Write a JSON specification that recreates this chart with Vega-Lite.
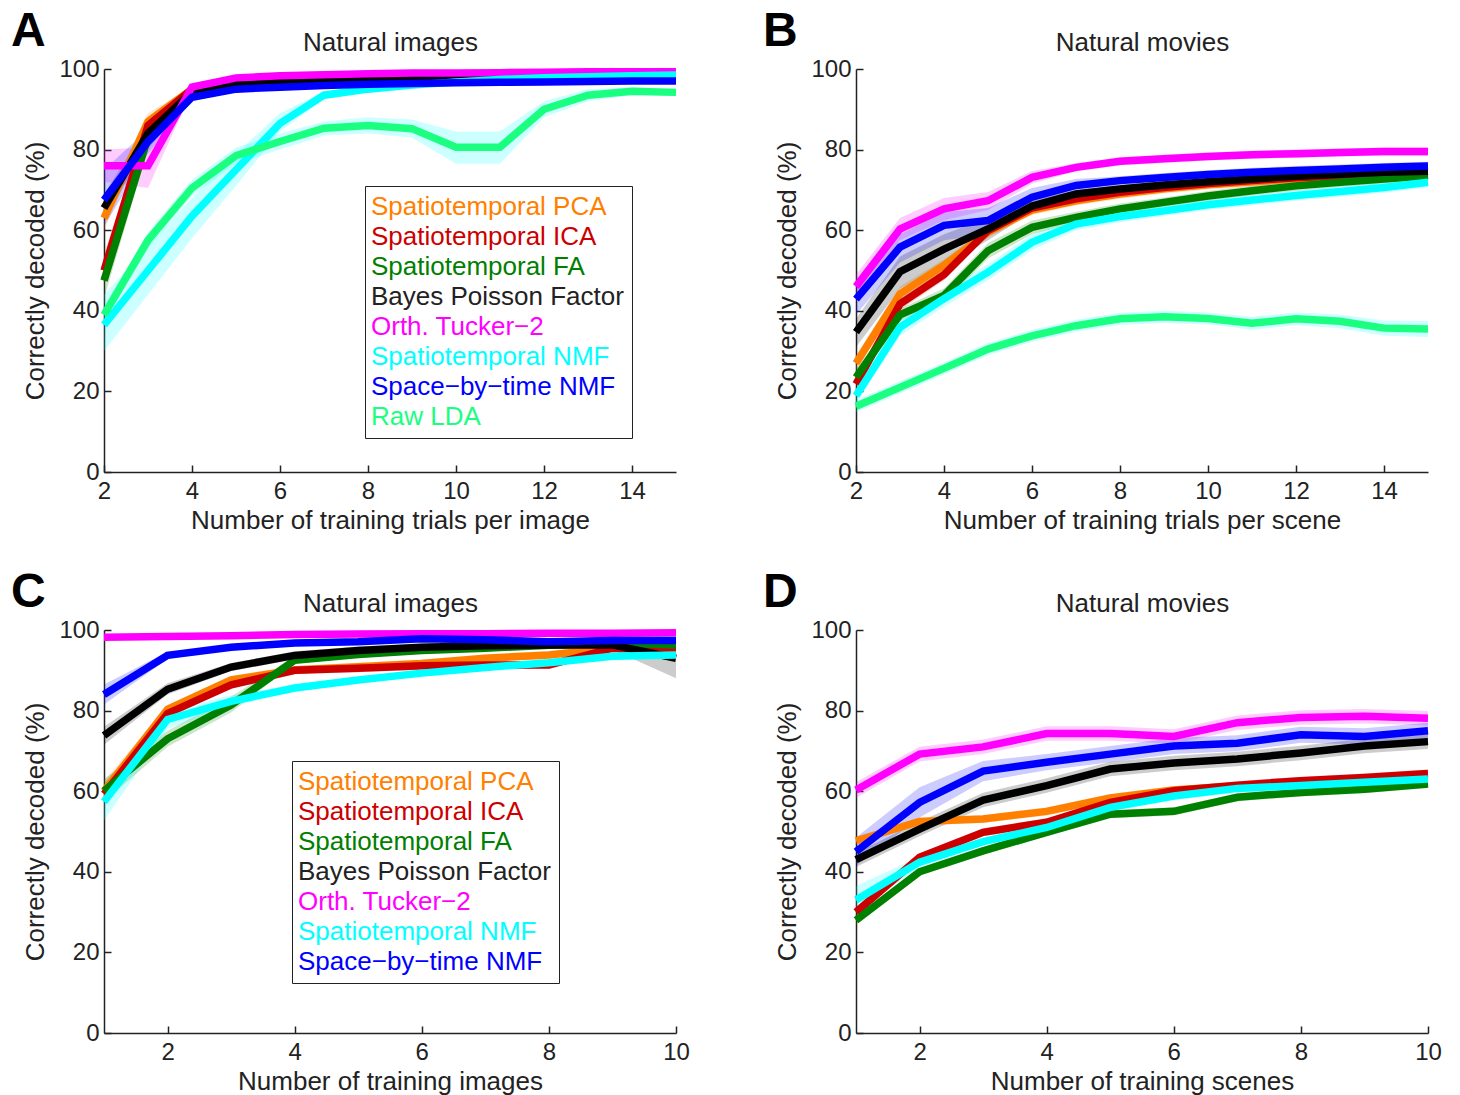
{
  "$schema": "https://vega.github.io/schema/vega-lite/v6.json",
  "padding": {"left": 10, "top": 8, "right": 10, "bottom": 8},
  "background": "white",
  "config": {
    "font": "Liberation Sans",
    "view": {"stroke": null},
    "axis": {"grid": false, "domainColor": "#222222", "domainWidth": 1.5, "tickColor": "#222222", "tickWidth": 1.5, "tickSize": -7, "labelFont": "Liberation Sans", "labelFontSize": 24, "labelColor": "#222222", "titleFont": "Liberation Sans", "titleFontSize": 26, "titleFontWeight": "normal", "titleColor": "#222222"},
    "axisX": {"labelPadding": 14, "titlePadding": 4, "labelFlush": false},
    "axisY": {"labelPadding": 12, "titlePadding": 10},
    "title": {"font": "Liberation Sans", "fontSize": 48, "fontWeight": "bold", "color": "black", "anchor": "start", "frame": "bounds", "dx": -12, "dy": 31, "offset": 0}
  },
  "datasets": {
    "A": [
      {"n":2,"method":"Spatiotemporal PCA","pct":63,"lo":60,"hi":66},{"n":3,"method":"Spatiotemporal PCA","pct":87,"lo":85,"hi":89},{"n":4,"method":"Spatiotemporal PCA","pct":95,"lo":94.4,"hi":95.6},{"n":5,"method":"Spatiotemporal PCA","pct":97,"lo":96.4,"hi":97.6},{"n":6,"method":"Spatiotemporal PCA","pct":97.6,"lo":97,"hi":98.2},{"n":7,"method":"Spatiotemporal PCA","pct":97.9,"lo":97.3,"hi":98.5},{"n":8,"method":"Spatiotemporal PCA","pct":98.1,"lo":97.5,"hi":98.7},{"n":9,"method":"Spatiotemporal PCA","pct":98.3,"lo":97.7,"hi":98.9},{"n":10,"method":"Spatiotemporal PCA","pct":98.4,"lo":97.8,"hi":99},{"n":11,"method":"Spatiotemporal PCA","pct":98.5,"lo":97.9,"hi":99.1},{"n":12,"method":"Spatiotemporal PCA","pct":98.6,"lo":98,"hi":99.2},{"n":13,"method":"Spatiotemporal PCA","pct":98.6,"lo":98,"hi":99.2},{"n":14,"method":"Spatiotemporal PCA","pct":98.7,"lo":98.1,"hi":99.3},{"n":15,"method":"Spatiotemporal PCA","pct":98.7,"lo":98.1,"hi":99.3},
      {"n":2,"method":"Spatiotemporal ICA","pct":50,"lo":46,"hi":54},{"n":3,"method":"Spatiotemporal ICA","pct":86,"lo":84,"hi":88},{"n":4,"method":"Spatiotemporal ICA","pct":95,"lo":94.4,"hi":95.6},{"n":5,"method":"Spatiotemporal ICA","pct":97,"lo":96.4,"hi":97.6},{"n":6,"method":"Spatiotemporal ICA","pct":97.6,"lo":97,"hi":98.2},{"n":7,"method":"Spatiotemporal ICA","pct":97.9,"lo":97.3,"hi":98.5},{"n":8,"method":"Spatiotemporal ICA","pct":98.1,"lo":97.5,"hi":98.7},{"n":9,"method":"Spatiotemporal ICA","pct":98.2,"lo":97.6,"hi":98.8},{"n":10,"method":"Spatiotemporal ICA","pct":98.3,"lo":97.7,"hi":98.9},{"n":11,"method":"Spatiotemporal ICA","pct":98.4,"lo":97.8,"hi":99},{"n":12,"method":"Spatiotemporal ICA","pct":98.5,"lo":97.9,"hi":99.1},{"n":13,"method":"Spatiotemporal ICA","pct":98.5,"lo":97.9,"hi":99.1},{"n":14,"method":"Spatiotemporal ICA","pct":98.6,"lo":98,"hi":99.2},{"n":15,"method":"Spatiotemporal ICA","pct":98.6,"lo":98,"hi":99.2},
      {"n":2,"method":"Spatiotemporal FA","pct":47.5,"lo":43,"hi":52},{"n":3,"method":"Spatiotemporal FA","pct":83,"lo":80,"hi":86},{"n":4,"method":"Spatiotemporal FA","pct":94.5,"lo":93.5,"hi":95.5},{"n":5,"method":"Spatiotemporal FA","pct":96.5,"lo":96,"hi":97},{"n":6,"method":"Spatiotemporal FA","pct":97.3,"lo":96.8,"hi":97.8},{"n":7,"method":"Spatiotemporal FA","pct":97.7,"lo":97.2,"hi":98.2},{"n":8,"method":"Spatiotemporal FA","pct":98,"lo":97.5,"hi":98.5},{"n":9,"method":"Spatiotemporal FA","pct":98.2,"lo":97.7,"hi":98.7},{"n":10,"method":"Spatiotemporal FA","pct":98.3,"lo":97.8,"hi":98.8},{"n":11,"method":"Spatiotemporal FA","pct":98.4,"lo":97.9,"hi":98.9},{"n":12,"method":"Spatiotemporal FA","pct":98.5,"lo":98,"hi":99},{"n":13,"method":"Spatiotemporal FA","pct":98.5,"lo":98,"hi":99},{"n":14,"method":"Spatiotemporal FA","pct":98.6,"lo":98.1,"hi":99.1},{"n":15,"method":"Spatiotemporal FA","pct":98.6,"lo":98.1,"hi":99.1},
      {"n":2,"method":"Bayes Poisson Factor","pct":65.5,"lo":62,"hi":69},{"n":3,"method":"Bayes Poisson Factor","pct":84,"lo":82,"hi":86},{"n":4,"method":"Bayes Poisson Factor","pct":94.3,"lo":93.7,"hi":94.9},{"n":5,"method":"Bayes Poisson Factor","pct":96.2,"lo":95.6,"hi":96.8},{"n":6,"method":"Bayes Poisson Factor","pct":97,"lo":96.4,"hi":97.6},{"n":7,"method":"Bayes Poisson Factor","pct":97.5,"lo":96.9,"hi":98.1},{"n":8,"method":"Bayes Poisson Factor","pct":97.8,"lo":97.2,"hi":98.4},{"n":9,"method":"Bayes Poisson Factor","pct":98,"lo":97.4,"hi":98.6},{"n":10,"method":"Bayes Poisson Factor","pct":98.1,"lo":97.5,"hi":98.7},{"n":11,"method":"Bayes Poisson Factor","pct":98.2,"lo":97.6,"hi":98.8},{"n":12,"method":"Bayes Poisson Factor","pct":98.3,"lo":97.7,"hi":98.9},{"n":13,"method":"Bayes Poisson Factor","pct":98.3,"lo":97.7,"hi":98.9},{"n":14,"method":"Bayes Poisson Factor","pct":98.4,"lo":97.8,"hi":99},{"n":15,"method":"Bayes Poisson Factor","pct":98.4,"lo":97.8,"hi":99},
      {"n":2,"method":"Orth. Tucker−2","pct":76,"lo":72,"hi":80},{"n":3,"method":"Orth. Tucker−2","pct":76,"lo":70.5,"hi":80.5},{"n":4,"method":"Orth. Tucker−2","pct":95.5,"lo":94.5,"hi":96.5},{"n":5,"method":"Orth. Tucker−2","pct":97.8,"lo":97.3,"hi":98.3},{"n":6,"method":"Orth. Tucker−2","pct":98.3,"lo":97.8,"hi":98.8},{"n":7,"method":"Orth. Tucker−2","pct":98.6,"lo":98.1,"hi":99.1},{"n":8,"method":"Orth. Tucker−2","pct":98.8,"lo":98.3,"hi":99.3},{"n":9,"method":"Orth. Tucker−2","pct":99,"lo":98.5,"hi":99.5},{"n":10,"method":"Orth. Tucker−2","pct":99,"lo":98.5,"hi":99.5},{"n":11,"method":"Orth. Tucker−2","pct":99.1,"lo":98.6,"hi":99.6},{"n":12,"method":"Orth. Tucker−2","pct":99.2,"lo":98.7,"hi":99.7},{"n":13,"method":"Orth. Tucker−2","pct":99.3,"lo":98.8,"hi":99.8},{"n":14,"method":"Orth. Tucker−2","pct":99.3,"lo":98.8,"hi":99.8},{"n":15,"method":"Orth. Tucker−2","pct":99.3,"lo":98.8,"hi":99.8},
      {"n":2,"method":"Spatiotemporal NMF","pct":36.5,"lo":30,"hi":44},{"n":3,"method":"Spatiotemporal NMF","pct":50,"lo":44,"hi":56},{"n":4,"method":"Spatiotemporal NMF","pct":63.5,"lo":58,"hi":68},{"n":5,"method":"Spatiotemporal NMF","pct":75,"lo":71,"hi":79},{"n":6,"method":"Spatiotemporal NMF","pct":86.5,"lo":84.5,"hi":89},{"n":7,"method":"Spatiotemporal NMF","pct":93.5,"lo":92.5,"hi":94.5},{"n":8,"method":"Spatiotemporal NMF","pct":95,"lo":94.3,"hi":95.7},{"n":9,"method":"Spatiotemporal NMF","pct":96,"lo":95.3,"hi":96.7},{"n":10,"method":"Spatiotemporal NMF","pct":96.8,"lo":96.1,"hi":97.5},{"n":11,"method":"Spatiotemporal NMF","pct":97.4,"lo":96.7,"hi":98.1},{"n":12,"method":"Spatiotemporal NMF","pct":97.8,"lo":97.1,"hi":98.5},{"n":13,"method":"Spatiotemporal NMF","pct":98.1,"lo":97.4,"hi":98.8},{"n":14,"method":"Spatiotemporal NMF","pct":98.3,"lo":97.6,"hi":99},{"n":15,"method":"Spatiotemporal NMF","pct":98.5,"lo":97.8,"hi":99.2},
      {"n":2,"method":"Space−by−time NMF","pct":67.5,"lo":61,"hi":75},{"n":3,"method":"Space−by−time NMF","pct":82,"lo":79,"hi":85},{"n":4,"method":"Space−by−time NMF","pct":93,"lo":92,"hi":94},{"n":5,"method":"Space−by−time NMF","pct":95,"lo":94.4,"hi":95.6},{"n":6,"method":"Space−by−time NMF","pct":95.5,"lo":94.9,"hi":96.1},{"n":7,"method":"Space−by−time NMF","pct":95.9,"lo":95.3,"hi":96.5},{"n":8,"method":"Space−by−time NMF","pct":96.2,"lo":95.6,"hi":96.8},{"n":9,"method":"Space−by−time NMF","pct":96.4,"lo":95.8,"hi":97},{"n":10,"method":"Space−by−time NMF","pct":96.6,"lo":96,"hi":97.2},{"n":11,"method":"Space−by−time NMF","pct":96.7,"lo":96.1,"hi":97.3},{"n":12,"method":"Space−by−time NMF","pct":96.8,"lo":96.2,"hi":97.4},{"n":13,"method":"Space−by−time NMF","pct":96.9,"lo":96.3,"hi":97.5},{"n":14,"method":"Space−by−time NMF","pct":97,"lo":96.4,"hi":97.6},{"n":15,"method":"Space−by−time NMF","pct":97,"lo":96.4,"hi":97.6},
      {"n":2,"method":"Raw LDA","pct":39,"lo":37,"hi":41},{"n":3,"method":"Raw LDA","pct":57.5,"lo":55.5,"hi":59.5},{"n":4,"method":"Raw LDA","pct":70.5,"lo":68.5,"hi":72.5},{"n":5,"method":"Raw LDA","pct":78.5,"lo":76.5,"hi":80.5},{"n":6,"method":"Raw LDA","pct":82,"lo":80,"hi":84},{"n":7,"method":"Raw LDA","pct":85.3,"lo":83.5,"hi":87},{"n":8,"method":"Raw LDA","pct":86,"lo":84,"hi":88},{"n":9,"method":"Raw LDA","pct":85.2,"lo":83,"hi":87.5},{"n":10,"method":"Raw LDA","pct":80.6,"lo":76.5,"hi":84.5},{"n":11,"method":"Raw LDA","pct":80.6,"lo":76.5,"hi":84.5},{"n":12,"method":"Raw LDA","pct":90,"lo":88,"hi":92},{"n":13,"method":"Raw LDA","pct":93.5,"lo":92,"hi":95},{"n":14,"method":"Raw LDA","pct":94.5,"lo":93.5,"hi":95.5},{"n":15,"method":"Raw LDA","pct":94.2,"lo":93.3,"hi":95}
    ],
    "B": [
      {"n":2,"method":"Spatiotemporal PCA","pct":27,"lo":25,"hi":29},{"n":3,"method":"Spatiotemporal PCA","pct":44.2,"lo":42.5,"hi":46},{"n":4,"method":"Spatiotemporal PCA","pct":51.3,"lo":49.8,"hi":52.8},{"n":5,"method":"Spatiotemporal PCA","pct":59.5,"lo":58.2,"hi":60.8},{"n":6,"method":"Spatiotemporal PCA","pct":65,"lo":63.8,"hi":66.2},{"n":7,"method":"Spatiotemporal PCA","pct":67.3,"lo":66.1,"hi":68.5},{"n":8,"method":"Spatiotemporal PCA","pct":69,"lo":67.8,"hi":70.2},{"n":9,"method":"Spatiotemporal PCA","pct":70.3,"lo":69.1,"hi":71.5},{"n":10,"method":"Spatiotemporal PCA","pct":71.3,"lo":70.1,"hi":72.5},{"n":11,"method":"Spatiotemporal PCA","pct":72,"lo":70.8,"hi":73.2},{"n":12,"method":"Spatiotemporal PCA","pct":72.8,"lo":71.6,"hi":74},{"n":13,"method":"Spatiotemporal PCA","pct":73.3,"lo":72.1,"hi":74.5},{"n":14,"method":"Spatiotemporal PCA","pct":73.7,"lo":72.5,"hi":74.9},{"n":15,"method":"Spatiotemporal PCA","pct":74.1,"lo":72.9,"hi":75.3},
      {"n":2,"method":"Spatiotemporal ICA","pct":21.8,"lo":20,"hi":23.6},{"n":3,"method":"Spatiotemporal ICA","pct":41.7,"lo":40.2,"hi":43.2},{"n":4,"method":"Spatiotemporal ICA","pct":49,"lo":47.6,"hi":50.4},{"n":5,"method":"Spatiotemporal ICA","pct":59.9,"lo":58.7,"hi":61.1},{"n":6,"method":"Spatiotemporal ICA","pct":65.5,"lo":64.3,"hi":66.7},{"n":7,"method":"Spatiotemporal ICA","pct":67.8,"lo":66.6,"hi":69},{"n":8,"method":"Spatiotemporal ICA","pct":69.4,"lo":68.2,"hi":70.6},{"n":9,"method":"Spatiotemporal ICA","pct":70.6,"lo":69.4,"hi":71.8},{"n":10,"method":"Spatiotemporal ICA","pct":71.6,"lo":70.4,"hi":72.8},{"n":11,"method":"Spatiotemporal ICA","pct":72.3,"lo":71.1,"hi":73.5},{"n":12,"method":"Spatiotemporal ICA","pct":73,"lo":71.8,"hi":74.2},{"n":13,"method":"Spatiotemporal ICA","pct":73.5,"lo":72.3,"hi":74.7},{"n":14,"method":"Spatiotemporal ICA","pct":73.9,"lo":72.7,"hi":75.1},{"n":15,"method":"Spatiotemporal ICA","pct":74.3,"lo":73.1,"hi":75.5},
      {"n":2,"method":"Spatiotemporal FA","pct":23.5,"lo":21.5,"hi":25.5},{"n":3,"method":"Spatiotemporal FA","pct":39,"lo":37.5,"hi":40.5},{"n":4,"method":"Spatiotemporal FA","pct":43.8,"lo":42,"hi":45.6},{"n":5,"method":"Spatiotemporal FA","pct":54.9,"lo":53,"hi":56.8},{"n":6,"method":"Spatiotemporal FA","pct":60.7,"lo":59,"hi":62.4},{"n":7,"method":"Spatiotemporal FA","pct":63.2,"lo":61.8,"hi":64.6},{"n":8,"method":"Spatiotemporal FA","pct":65.3,"lo":64,"hi":66.6},{"n":9,"method":"Spatiotemporal FA","pct":66.9,"lo":65.7,"hi":68.1},{"n":10,"method":"Spatiotemporal FA","pct":68.5,"lo":67.3,"hi":69.7},{"n":11,"method":"Spatiotemporal FA","pct":69.8,"lo":68.6,"hi":71},{"n":12,"method":"Spatiotemporal FA","pct":71,"lo":69.8,"hi":72.2},{"n":13,"method":"Spatiotemporal FA","pct":71.9,"lo":70.7,"hi":73.1},{"n":14,"method":"Spatiotemporal FA","pct":72.7,"lo":71.5,"hi":73.9},{"n":15,"method":"Spatiotemporal FA","pct":73.5,"lo":72.3,"hi":74.7},
      {"n":2,"method":"Bayes Poisson Factor","pct":34.7,"lo":31,"hi":38},{"n":3,"method":"Bayes Poisson Factor","pct":49.7,"lo":45.5,"hi":53.5},{"n":4,"method":"Bayes Poisson Factor","pct":55.3,"lo":51,"hi":59},{"n":5,"method":"Bayes Poisson Factor","pct":60.3,"lo":57.5,"hi":63},{"n":6,"method":"Bayes Poisson Factor","pct":66,"lo":64.5,"hi":67.5},{"n":7,"method":"Bayes Poisson Factor","pct":69,"lo":68,"hi":70},{"n":8,"method":"Bayes Poisson Factor","pct":70.2,"lo":69.2,"hi":71.2},{"n":9,"method":"Bayes Poisson Factor","pct":71.2,"lo":70.2,"hi":72.2},{"n":10,"method":"Bayes Poisson Factor","pct":72,"lo":71,"hi":73},{"n":11,"method":"Bayes Poisson Factor","pct":72.7,"lo":71.7,"hi":73.7},{"n":12,"method":"Bayes Poisson Factor","pct":73.4,"lo":72.4,"hi":74.4},{"n":13,"method":"Bayes Poisson Factor","pct":73.9,"lo":72.9,"hi":74.9},{"n":14,"method":"Bayes Poisson Factor","pct":74.4,"lo":73.4,"hi":75.4},{"n":15,"method":"Bayes Poisson Factor","pct":74.6,"lo":73.6,"hi":75.6},
      {"n":2,"method":"Orth. Tucker−2","pct":46,"lo":43,"hi":49},{"n":3,"method":"Orth. Tucker−2","pct":60.3,"lo":57.5,"hi":63},{"n":4,"method":"Orth. Tucker−2","pct":65.3,"lo":62.5,"hi":68},{"n":5,"method":"Orth. Tucker−2","pct":67.3,"lo":65,"hi":69.5},{"n":6,"method":"Orth. Tucker−2","pct":73.1,"lo":71.5,"hi":74.7},{"n":7,"method":"Orth. Tucker−2","pct":75.6,"lo":74.6,"hi":76.6},{"n":8,"method":"Orth. Tucker−2","pct":77.1,"lo":76.1,"hi":78.1},{"n":9,"method":"Orth. Tucker−2","pct":77.7,"lo":76.7,"hi":78.7},{"n":10,"method":"Orth. Tucker−2","pct":78.3,"lo":77.3,"hi":79.3},{"n":11,"method":"Orth. Tucker−2","pct":78.7,"lo":77.7,"hi":79.7},{"n":12,"method":"Orth. Tucker−2","pct":79,"lo":78,"hi":80},{"n":13,"method":"Orth. Tucker−2","pct":79.3,"lo":78.3,"hi":80.3},{"n":14,"method":"Orth. Tucker−2","pct":79.5,"lo":78.5,"hi":80.5},{"n":15,"method":"Orth. Tucker−2","pct":79.5,"lo":78.5,"hi":80.5},
      {"n":2,"method":"Spatiotemporal NMF","pct":18.9,"lo":17,"hi":20.8},{"n":3,"method":"Spatiotemporal NMF","pct":35.9,"lo":33.8,"hi":38},{"n":4,"method":"Spatiotemporal NMF","pct":43,"lo":41,"hi":45},{"n":5,"method":"Spatiotemporal NMF","pct":49.6,"lo":47.6,"hi":51.6},{"n":6,"method":"Spatiotemporal NMF","pct":57,"lo":55,"hi":59},{"n":7,"method":"Spatiotemporal NMF","pct":61.5,"lo":60,"hi":63},{"n":8,"method":"Spatiotemporal NMF","pct":63.4,"lo":62,"hi":64.8},{"n":9,"method":"Spatiotemporal NMF","pct":64.8,"lo":63.5,"hi":66.1},{"n":10,"method":"Spatiotemporal NMF","pct":66.3,"lo":65,"hi":67.6},{"n":11,"method":"Spatiotemporal NMF","pct":67.5,"lo":66.2,"hi":68.8},{"n":12,"method":"Spatiotemporal NMF","pct":68.6,"lo":67.3,"hi":69.9},{"n":13,"method":"Spatiotemporal NMF","pct":69.6,"lo":68.3,"hi":70.9},{"n":14,"method":"Spatiotemporal NMF","pct":70.6,"lo":69.3,"hi":71.9},{"n":15,"method":"Spatiotemporal NMF","pct":71.9,"lo":70.6,"hi":73.2},
      {"n":2,"method":"Space−by−time NMF","pct":42.9,"lo":39,"hi":46},{"n":3,"method":"Space−by−time NMF","pct":55.8,"lo":52,"hi":59},{"n":4,"method":"Space−by−time NMF","pct":61.2,"lo":57.5,"hi":64.5},{"n":5,"method":"Space−by−time NMF","pct":62.4,"lo":59,"hi":65.5},{"n":6,"method":"Space−by−time NMF","pct":68.2,"lo":65.5,"hi":70.5},{"n":7,"method":"Space−by−time NMF","pct":71.1,"lo":69.5,"hi":72.7},{"n":8,"method":"Space−by−time NMF","pct":72.3,"lo":71.2,"hi":73.4},{"n":9,"method":"Space−by−time NMF","pct":73.1,"lo":72,"hi":74.2},{"n":10,"method":"Space−by−time NMF","pct":73.8,"lo":72.7,"hi":74.9},{"n":11,"method":"Space−by−time NMF","pct":74.4,"lo":73.3,"hi":75.5},{"n":12,"method":"Space−by−time NMF","pct":74.8,"lo":73.7,"hi":75.9},{"n":13,"method":"Space−by−time NMF","pct":75.2,"lo":74.1,"hi":76.3},{"n":14,"method":"Space−by−time NMF","pct":75.6,"lo":74.5,"hi":76.7},{"n":15,"method":"Space−by−time NMF","pct":75.9,"lo":74.8,"hi":77},
      {"n":2,"method":"Raw LDA","pct":16.3,"lo":14.8,"hi":17.8},{"n":3,"method":"Raw LDA","pct":21,"lo":19.5,"hi":22.5},{"n":4,"method":"Raw LDA","pct":25.7,"lo":24.2,"hi":27.2},{"n":5,"method":"Raw LDA","pct":30.5,"lo":29,"hi":32},{"n":6,"method":"Raw LDA","pct":33.8,"lo":32.3,"hi":35.3},{"n":7,"method":"Raw LDA","pct":36.3,"lo":34.8,"hi":37.8},{"n":8,"method":"Raw LDA","pct":38,"lo":36.5,"hi":39.5},{"n":9,"method":"Raw LDA","pct":38.5,"lo":37,"hi":40},{"n":10,"method":"Raw LDA","pct":38.1,"lo":36.6,"hi":39.6},{"n":11,"method":"Raw LDA","pct":36.9,"lo":35.3,"hi":38.5},{"n":12,"method":"Raw LDA","pct":38,"lo":36.4,"hi":39.6},{"n":13,"method":"Raw LDA","pct":37.4,"lo":35.7,"hi":39.1},{"n":14,"method":"Raw LDA","pct":35.7,"lo":33.8,"hi":37.6},{"n":15,"method":"Raw LDA","pct":35.5,"lo":33.5,"hi":37.5}
    ],
    "C": [
      {"n":1,"method":"Spatiotemporal PCA","pct":60,"lo":57.5,"hi":62.5},{"n":2,"method":"Spatiotemporal PCA","pct":80.3,"lo":79.2,"hi":81.4},{"n":3,"method":"Spatiotemporal PCA","pct":87.6,"lo":86.6,"hi":88.6},{"n":4,"method":"Spatiotemporal PCA","pct":90.1,"lo":89.1,"hi":91.1},{"n":5,"method":"Spatiotemporal PCA","pct":90.9,"lo":89.9,"hi":91.9},{"n":6,"method":"Spatiotemporal PCA","pct":91.7,"lo":90.7,"hi":92.7},{"n":7,"method":"Spatiotemporal PCA","pct":93,"lo":92,"hi":94},{"n":8,"method":"Spatiotemporal PCA","pct":93.8,"lo":92.8,"hi":94.8},{"n":9,"method":"Spatiotemporal PCA","pct":95.5,"lo":94.5,"hi":96.5},{"n":10,"method":"Spatiotemporal PCA","pct":96,"lo":95,"hi":97},
      {"n":1,"method":"Spatiotemporal ICA","pct":59.3,"lo":57,"hi":62},{"n":2,"method":"Spatiotemporal ICA","pct":79.3,"lo":78.2,"hi":80.4},{"n":3,"method":"Spatiotemporal ICA","pct":86.4,"lo":85.4,"hi":87.4},{"n":4,"method":"Spatiotemporal ICA","pct":90,"lo":89,"hi":91},{"n":5,"method":"Spatiotemporal ICA","pct":90.5,"lo":89.5,"hi":91.5},{"n":6,"method":"Spatiotemporal ICA","pct":91.1,"lo":90.1,"hi":92.1},{"n":7,"method":"Spatiotemporal ICA","pct":91.3,"lo":90.3,"hi":92.3},{"n":8,"method":"Spatiotemporal ICA","pct":91.3,"lo":90.3,"hi":92.3},{"n":9,"method":"Spatiotemporal ICA","pct":95.5,"lo":94.5,"hi":96.5},{"n":10,"method":"Spatiotemporal ICA","pct":95.2,"lo":94.2,"hi":96.2},
      {"n":1,"method":"Spatiotemporal FA","pct":60.1,"lo":57.5,"hi":63},{"n":2,"method":"Spatiotemporal FA","pct":73,"lo":71,"hi":75},{"n":3,"method":"Spatiotemporal FA","pct":81.4,"lo":79.5,"hi":83.5},{"n":4,"method":"Spatiotemporal FA","pct":92.5,"lo":91.7,"hi":93.3},{"n":5,"method":"Spatiotemporal FA","pct":93.9,"lo":93.1,"hi":94.7},{"n":6,"method":"Spatiotemporal FA","pct":94.9,"lo":94.1,"hi":95.7},{"n":7,"method":"Spatiotemporal FA","pct":95.5,"lo":94.7,"hi":96.3},{"n":8,"method":"Spatiotemporal FA","pct":96.2,"lo":95.4,"hi":97},{"n":9,"method":"Spatiotemporal FA","pct":96.8,"lo":96,"hi":97.6},{"n":10,"method":"Spatiotemporal FA","pct":96.3,"lo":95.5,"hi":97.1},
      {"n":1,"method":"Bayes Poisson Factor","pct":73.8,"lo":71.5,"hi":76},{"n":2,"method":"Bayes Poisson Factor","pct":85.3,"lo":84,"hi":86.8},{"n":3,"method":"Bayes Poisson Factor","pct":90.8,"lo":89.8,"hi":91.8},{"n":4,"method":"Bayes Poisson Factor","pct":93.7,"lo":92.7,"hi":94.7},{"n":5,"method":"Bayes Poisson Factor","pct":94.9,"lo":93.9,"hi":95.9},{"n":6,"method":"Bayes Poisson Factor","pct":95.7,"lo":94.7,"hi":96.7},{"n":7,"method":"Bayes Poisson Factor","pct":96.1,"lo":95.1,"hi":97.1},{"n":8,"method":"Bayes Poisson Factor","pct":96.3,"lo":95.3,"hi":97.3},{"n":9,"method":"Bayes Poisson Factor","pct":96.3,"lo":95.1,"hi":97.5},{"n":10,"method":"Bayes Poisson Factor","pct":93,"lo":88,"hi":96},
      {"n":1,"method":"Orth. Tucker−2","pct":98.2,"lo":97.7,"hi":98.7},{"n":2,"method":"Orth. Tucker−2","pct":98.4,"lo":97.9,"hi":98.9},{"n":3,"method":"Orth. Tucker−2","pct":98.6,"lo":98.1,"hi":99.1},{"n":4,"method":"Orth. Tucker−2","pct":98.9,"lo":98.4,"hi":99.4},{"n":5,"method":"Orth. Tucker−2","pct":99,"lo":98.5,"hi":99.5},{"n":6,"method":"Orth. Tucker−2","pct":99.1,"lo":98.6,"hi":99.6},{"n":7,"method":"Orth. Tucker−2","pct":99.1,"lo":98.6,"hi":99.6},{"n":8,"method":"Orth. Tucker−2","pct":99.2,"lo":98.7,"hi":99.7},{"n":9,"method":"Orth. Tucker−2","pct":99.2,"lo":98.7,"hi":99.7},{"n":10,"method":"Orth. Tucker−2","pct":99.3,"lo":98.8,"hi":99.8},
      {"n":1,"method":"Spatiotemporal NMF","pct":57.4,"lo":52.7,"hi":61.4},{"n":2,"method":"Spatiotemporal NMF","pct":77.8,"lo":75.5,"hi":80},{"n":3,"method":"Spatiotemporal NMF","pct":82.3,"lo":81,"hi":83.8},{"n":4,"method":"Spatiotemporal NMF","pct":85.6,"lo":84.8,"hi":86.4},{"n":5,"method":"Spatiotemporal NMF","pct":87.6,"lo":86.8,"hi":88.4},{"n":6,"method":"Spatiotemporal NMF","pct":89.3,"lo":88.5,"hi":90.1},{"n":7,"method":"Spatiotemporal NMF","pct":90.7,"lo":89.9,"hi":91.5},{"n":8,"method":"Spatiotemporal NMF","pct":91.9,"lo":91.1,"hi":92.7},{"n":9,"method":"Spatiotemporal NMF","pct":93.5,"lo":92.7,"hi":94.3},{"n":10,"method":"Spatiotemporal NMF","pct":93.8,"lo":93,"hi":94.6},
      {"n":1,"method":"Space−by−time NMF","pct":84,"lo":81.5,"hi":86.5},{"n":2,"method":"Space−by−time NMF","pct":93.7,"lo":92.8,"hi":94.6},{"n":3,"method":"Space−by−time NMF","pct":95.7,"lo":95.1,"hi":96.3},{"n":4,"method":"Space−by−time NMF","pct":96.8,"lo":96.2,"hi":97.4},{"n":5,"method":"Space−by−time NMF","pct":97.1,"lo":96.5,"hi":97.7},{"n":6,"method":"Space−by−time NMF","pct":97.8,"lo":97.2,"hi":98.4},{"n":7,"method":"Space−by−time NMF","pct":97.6,"lo":97,"hi":98.2},{"n":8,"method":"Space−by−time NMF","pct":97.1,"lo":96.5,"hi":97.7},{"n":9,"method":"Space−by−time NMF","pct":97.4,"lo":96.8,"hi":98},{"n":10,"method":"Space−by−time NMF","pct":97.4,"lo":96.8,"hi":98}
    ],
    "D": [
      {"n":1,"method":"Spatiotemporal PCA","pct":47.7,"lo":46.7,"hi":48.7},{"n":2,"method":"Spatiotemporal PCA","pct":52.5,"lo":51.5,"hi":53.5},{"n":3,"method":"Spatiotemporal PCA","pct":53.1,"lo":52.1,"hi":54.1},{"n":4,"method":"Spatiotemporal PCA","pct":55,"lo":54,"hi":56},{"n":5,"method":"Spatiotemporal PCA","pct":58.3,"lo":57.3,"hi":59.3},{"n":6,"method":"Spatiotemporal PCA","pct":60.3,"lo":59.3,"hi":61.3},{"n":7,"method":"Spatiotemporal PCA","pct":61.3,"lo":60.3,"hi":62.3},{"n":8,"method":"Spatiotemporal PCA","pct":62.2,"lo":61.2,"hi":63.2},{"n":9,"method":"Spatiotemporal PCA","pct":63,"lo":62,"hi":64},{"n":10,"method":"Spatiotemporal PCA","pct":63.8,"lo":62.8,"hi":64.8},
      {"n":1,"method":"Spatiotemporal ICA","pct":30,"lo":29,"hi":31},{"n":2,"method":"Spatiotemporal ICA","pct":43.6,"lo":42.6,"hi":44.6},{"n":3,"method":"Spatiotemporal ICA","pct":49.8,"lo":48.8,"hi":50.8},{"n":4,"method":"Spatiotemporal ICA","pct":52.3,"lo":51.3,"hi":53.3},{"n":5,"method":"Spatiotemporal ICA","pct":57.2,"lo":56.2,"hi":58.2},{"n":6,"method":"Spatiotemporal ICA","pct":60.1,"lo":59.1,"hi":61.1},{"n":7,"method":"Spatiotemporal ICA","pct":61.5,"lo":60.5,"hi":62.5},{"n":8,"method":"Spatiotemporal ICA","pct":62.6,"lo":61.6,"hi":63.6},{"n":9,"method":"Spatiotemporal ICA","pct":63.4,"lo":62.4,"hi":64.4},{"n":10,"method":"Spatiotemporal ICA","pct":64.4,"lo":63.4,"hi":65.4},
      {"n":1,"method":"Spatiotemporal FA","pct":28,"lo":27,"hi":29},{"n":2,"method":"Spatiotemporal FA","pct":40,"lo":39,"hi":41},{"n":3,"method":"Spatiotemporal FA","pct":45.2,"lo":44.2,"hi":46.2},{"n":4,"method":"Spatiotemporal FA","pct":49.8,"lo":48.8,"hi":50.8},{"n":5,"method":"Spatiotemporal FA","pct":54.3,"lo":53.3,"hi":55.3},{"n":6,"method":"Spatiotemporal FA","pct":55,"lo":54,"hi":56},{"n":7,"method":"Spatiotemporal FA","pct":58.5,"lo":57.5,"hi":59.5},{"n":8,"method":"Spatiotemporal FA","pct":59.7,"lo":58.7,"hi":60.7},{"n":9,"method":"Spatiotemporal FA","pct":60.5,"lo":59.5,"hi":61.5},{"n":10,"method":"Spatiotemporal FA","pct":61.8,"lo":60.8,"hi":62.8},
      {"n":1,"method":"Bayes Poisson Factor","pct":43,"lo":41.2,"hi":44.8},{"n":2,"method":"Bayes Poisson Factor","pct":50.6,"lo":48.8,"hi":52.4},{"n":3,"method":"Bayes Poisson Factor","pct":57.8,"lo":56,"hi":59.6},{"n":4,"method":"Bayes Poisson Factor","pct":61.4,"lo":59.6,"hi":63.2},{"n":5,"method":"Bayes Poisson Factor","pct":65.5,"lo":63.7,"hi":67.3},{"n":6,"method":"Bayes Poisson Factor","pct":67,"lo":65.2,"hi":68.8},{"n":7,"method":"Bayes Poisson Factor","pct":68,"lo":66.2,"hi":69.8},{"n":8,"method":"Bayes Poisson Factor","pct":69.5,"lo":67.7,"hi":71.3},{"n":9,"method":"Bayes Poisson Factor","pct":71.2,"lo":69.4,"hi":73},{"n":10,"method":"Bayes Poisson Factor","pct":72.3,"lo":70.5,"hi":74.1},
      {"n":1,"method":"Orth. Tucker−2","pct":60.3,"lo":58.3,"hi":62.3},{"n":2,"method":"Orth. Tucker−2","pct":69.2,"lo":67.4,"hi":71},{"n":3,"method":"Orth. Tucker−2","pct":71,"lo":69.2,"hi":72.8},{"n":4,"method":"Orth. Tucker−2","pct":74.3,"lo":72.5,"hi":76.1},{"n":5,"method":"Orth. Tucker−2","pct":74.3,"lo":72.5,"hi":76.1},{"n":6,"method":"Orth. Tucker−2","pct":73.6,"lo":71.8,"hi":75.4},{"n":7,"method":"Orth. Tucker−2","pct":77,"lo":75.2,"hi":78.8},{"n":8,"method":"Orth. Tucker−2","pct":78.3,"lo":76.5,"hi":80.1},{"n":9,"method":"Orth. Tucker−2","pct":78.6,"lo":76.8,"hi":80.4},{"n":10,"method":"Orth. Tucker−2","pct":78.1,"lo":76.3,"hi":79.9},
      {"n":1,"method":"Spatiotemporal NMF","pct":33,"lo":30,"hi":36.5},{"n":2,"method":"Spatiotemporal NMF","pct":42.4,"lo":41,"hi":43.8},{"n":3,"method":"Spatiotemporal NMF","pct":47.5,"lo":46.5,"hi":48.5},{"n":4,"method":"Spatiotemporal NMF","pct":51,"lo":50,"hi":52},{"n":5,"method":"Spatiotemporal NMF","pct":56,"lo":55,"hi":57},{"n":6,"method":"Spatiotemporal NMF","pct":58.8,"lo":57.8,"hi":59.8},{"n":7,"method":"Spatiotemporal NMF","pct":60.7,"lo":59.7,"hi":61.7},{"n":8,"method":"Spatiotemporal NMF","pct":61.4,"lo":60.4,"hi":62.4},{"n":9,"method":"Spatiotemporal NMF","pct":62.2,"lo":61.2,"hi":63.2},{"n":10,"method":"Spatiotemporal NMF","pct":63,"lo":62,"hi":64},
      {"n":1,"method":"Space−by−time NMF","pct":45,"lo":41.5,"hi":48.5},{"n":2,"method":"Space−by−time NMF","pct":57.2,"lo":53.5,"hi":61},{"n":3,"method":"Space−by−time NMF","pct":65,"lo":62.5,"hi":67.5},{"n":4,"method":"Space−by−time NMF","pct":67.2,"lo":65.2,"hi":69.2},{"n":5,"method":"Space−by−time NMF","pct":69.2,"lo":67.2,"hi":71.2},{"n":6,"method":"Space−by−time NMF","pct":71.2,"lo":69.2,"hi":73.2},{"n":7,"method":"Space−by−time NMF","pct":71.9,"lo":69.9,"hi":73.9},{"n":8,"method":"Space−by−time NMF","pct":74,"lo":72,"hi":76},{"n":9,"method":"Space−by−time NMF","pct":73.6,"lo":71.6,"hi":75.6},{"n":10,"method":"Space−by−time NMF","pct":75,"lo":73,"hi":77}
    ]
  },
  "columns": 2,
  "bounds": "flush",
  "spacing": {"row": 158, "column": 180},
  "resolve": {"scale": {"color": "independent", "fill": "independent", "x": "independent", "y": "independent"}, "legend": {"color": "independent", "fill": "independent"}},
  "concat": [
    {
      "title": {"text": "A"},
      "width": 572, "height": 403,
      "data": {"name": "A"},
      "resolve": {"axis": {"x": "independent"}},
      "layer": [
        {"mark": {"type": "area", "fillOpacity": 0.2}, "encoding": {"x": {"field": "n", "type": "quantitative", "scale": {"domain": [2, 15], "nice": false, "zero": false}, "axis": {"values": [2, 4, 6, 8, 10, 12, 14], "title": "Number of training trials per image"}}, "y": {"field": "lo", "type": "quantitative", "scale": {"domain": [0, 100], "nice": false}, "axis": {"values": [0, 20, 40, 60, 80, 100], "title": "Correctly decoded (%)"}}, "y2": {"field": "hi"}, "fill": {"field": "method", "type": "nominal", "scale": {"domain": ["Spatiotemporal PCA", "Spatiotemporal ICA", "Spatiotemporal FA", "Bayes Poisson Factor", "Orth. Tucker−2", "Spatiotemporal NMF", "Space−by−time NMF", "Raw LDA"], "range": ["#ff8000", "#cc0000", "#008000", "#000000", "#ff00ff", "#00ffff", "#0000ff", "#00ffff"]}}}},
        {"mark": {"type": "line", "strokeWidth": 7.5, "strokeJoin": "miter"}, "encoding": {"x": {"field": "n", "type": "quantitative", "axis": {"orient": "top", "title": "Natural images", "labels": false, "ticks": false, "domain": false, "titlePadding": 14}}, "y": {"field": "pct", "type": "quantitative", "axis": {"values": [0, 20, 40, 60, 80, 100], "title": "Correctly decoded (%)"}}, "color": {"field": "method", "type": "nominal", "scale": {"domain": ["Spatiotemporal PCA", "Spatiotemporal ICA", "Spatiotemporal FA", "Bayes Poisson Factor", "Orth. Tucker−2", "Spatiotemporal NMF", "Space−by−time NMF", "Raw LDA"], "range": ["#ff8000", "#cc0000", "#008000", "#000000", "#ff00ff", "#00ffff", "#0000ff", "#1aff80"]}, "legend": {"orient": "none", "legendX": 261, "legendY": 117, "title": null, "symbolType": "circle", "symbolSize": 1, "symbolOpacity": 0, "symbolStrokeWidth": 0, "labelOffset": -28, "labelFont": "Liberation Sans", "labelFontSize": 26, "labelLimit": 600, "rowPadding": 4, "padding": 8, "strokeColor": "#222222", "fillColor": "white", "cornerRadius": 0, "labelColor": {"expr": "['#ff8000','#cc0000','#008000','#222222','#ff00ff','#00ffff','#0000ff','#1aff80'][indexof(['Spatiotemporal PCA','Spatiotemporal ICA','Spatiotemporal FA','Bayes Poisson Factor','Orth. Tucker−2','Spatiotemporal NMF','Space−by−time NMF','Raw LDA'], datum.value)]"}}}}}
      ]
    },
    {
      "title": {"text": "B"},
      "width": 572, "height": 403,
      "data": {"name": "B"},
      "resolve": {"axis": {"x": "independent"}},
      "layer": [
        {"mark": {"type": "area", "fillOpacity": 0.2}, "encoding": {"x": {"field": "n", "type": "quantitative", "scale": {"domain": [2, 15], "nice": false, "zero": false}, "axis": {"values": [2, 4, 6, 8, 10, 12, 14], "title": "Number of training trials per scene"}}, "y": {"field": "lo", "type": "quantitative", "scale": {"domain": [0, 100], "nice": false}, "axis": {"values": [0, 20, 40, 60, 80, 100], "title": "Correctly decoded (%)"}}, "y2": {"field": "hi"}, "fill": {"field": "method", "type": "nominal", "scale": {"domain": ["Spatiotemporal PCA", "Spatiotemporal ICA", "Spatiotemporal FA", "Bayes Poisson Factor", "Orth. Tucker−2", "Spatiotemporal NMF", "Space−by−time NMF", "Raw LDA"], "range": ["#ff8000", "#cc0000", "#008000", "#000000", "#ff00ff", "#00ffff", "#0000ff", "#00ffff"]}, "legend": null}}},
        {"mark": {"type": "line", "strokeWidth": 7.5, "strokeJoin": "miter"}, "encoding": {"x": {"field": "n", "type": "quantitative", "axis": {"orient": "top", "title": "Natural movies", "labels": false, "ticks": false, "domain": false, "titlePadding": 14}}, "y": {"field": "pct", "type": "quantitative", "axis": {"values": [0, 20, 40, 60, 80, 100], "title": "Correctly decoded (%)"}}, "color": {"field": "method", "type": "nominal", "scale": {"domain": ["Spatiotemporal PCA", "Spatiotemporal ICA", "Spatiotemporal FA", "Bayes Poisson Factor", "Orth. Tucker−2", "Spatiotemporal NMF", "Space−by−time NMF", "Raw LDA"], "range": ["#ff8000", "#cc0000", "#008000", "#000000", "#ff00ff", "#00ffff", "#0000ff", "#1aff80"]}, "legend": null}}}
      ]
    },
    {
      "title": {"text": "C"},
      "width": 572, "height": 403,
      "data": {"name": "C"},
      "resolve": {"axis": {"x": "independent"}},
      "layer": [
        {"mark": {"type": "area", "fillOpacity": 0.2}, "encoding": {"x": {"field": "n", "type": "quantitative", "scale": {"domain": [1, 10], "nice": false, "zero": false}, "axis": {"values": [2, 4, 6, 8, 10], "title": "Number of training images"}}, "y": {"field": "lo", "type": "quantitative", "scale": {"domain": [0, 100], "nice": false}, "axis": {"values": [0, 20, 40, 60, 80, 100], "title": "Correctly decoded (%)"}}, "y2": {"field": "hi"}, "fill": {"field": "method", "type": "nominal", "scale": {"domain": ["Spatiotemporal PCA", "Spatiotemporal ICA", "Spatiotemporal FA", "Bayes Poisson Factor", "Orth. Tucker−2", "Spatiotemporal NMF", "Space−by−time NMF"], "range": ["#ff8000", "#cc0000", "#008000", "#000000", "#ff00ff", "#00ffff", "#0000ff"]}}}},
        {"mark": {"type": "line", "strokeWidth": 7.5, "strokeJoin": "miter"}, "encoding": {"x": {"field": "n", "type": "quantitative", "axis": {"orient": "top", "title": "Natural images", "labels": false, "ticks": false, "domain": false, "titlePadding": 14}}, "y": {"field": "pct", "type": "quantitative", "axis": {"values": [0, 20, 40, 60, 80, 100], "title": "Correctly decoded (%)"}}, "color": {"field": "method", "type": "nominal", "scale": {"domain": ["Spatiotemporal PCA", "Spatiotemporal ICA", "Spatiotemporal FA", "Bayes Poisson Factor", "Orth. Tucker−2", "Spatiotemporal NMF", "Space−by−time NMF"], "range": ["#ff8000", "#cc0000", "#008000", "#000000", "#ff00ff", "#00ffff", "#0000ff"]}, "legend": {"orient": "none", "legendX": 188, "legendY": 131, "title": null, "symbolType": "circle", "symbolSize": 1, "symbolOpacity": 0, "symbolStrokeWidth": 0, "labelOffset": -28, "labelFont": "Liberation Sans", "labelFontSize": 26, "labelLimit": 600, "rowPadding": 4, "padding": 8, "strokeColor": "#222222", "fillColor": "white", "cornerRadius": 0, "labelColor": {"expr": "['#ff8000','#cc0000','#008000','#222222','#ff00ff','#00ffff','#0000ff','#1aff80'][indexof(['Spatiotemporal PCA','Spatiotemporal ICA','Spatiotemporal FA','Bayes Poisson Factor','Orth. Tucker−2','Spatiotemporal NMF','Space−by−time NMF','Raw LDA'], datum.value)]"}}}}}
      ]
    },
    {
      "title": {"text": "D"},
      "width": 572, "height": 403,
      "data": {"name": "D"},
      "resolve": {"axis": {"x": "independent"}},
      "layer": [
        {"mark": {"type": "area", "fillOpacity": 0.2}, "encoding": {"x": {"field": "n", "type": "quantitative", "scale": {"domain": [1, 10], "nice": false, "zero": false}, "axis": {"values": [2, 4, 6, 8, 10], "title": "Number of training scenes"}}, "y": {"field": "lo", "type": "quantitative", "scale": {"domain": [0, 100], "nice": false}, "axis": {"values": [0, 20, 40, 60, 80, 100], "title": "Correctly decoded (%)"}}, "y2": {"field": "hi"}, "fill": {"field": "method", "type": "nominal", "scale": {"domain": ["Spatiotemporal PCA", "Spatiotemporal ICA", "Spatiotemporal FA", "Bayes Poisson Factor", "Orth. Tucker−2", "Spatiotemporal NMF", "Space−by−time NMF"], "range": ["#ff8000", "#cc0000", "#008000", "#000000", "#ff00ff", "#00ffff", "#0000ff"]}, "legend": null}}},
        {"mark": {"type": "line", "strokeWidth": 7.5, "strokeJoin": "miter"}, "encoding": {"x": {"field": "n", "type": "quantitative", "axis": {"orient": "top", "title": "Natural movies", "labels": false, "ticks": false, "domain": false, "titlePadding": 14}}, "y": {"field": "pct", "type": "quantitative", "axis": {"values": [0, 20, 40, 60, 80, 100], "title": "Correctly decoded (%)"}}, "color": {"field": "method", "type": "nominal", "scale": {"domain": ["Spatiotemporal PCA", "Spatiotemporal ICA", "Spatiotemporal FA", "Bayes Poisson Factor", "Orth. Tucker−2", "Spatiotemporal NMF", "Space−by−time NMF"], "range": ["#ff8000", "#cc0000", "#008000", "#000000", "#ff00ff", "#00ffff", "#0000ff"]}, "legend": null}}}
      ]
    }
  ]
}
